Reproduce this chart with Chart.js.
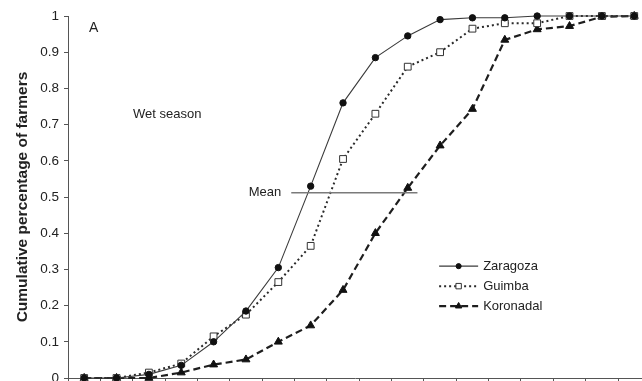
<!DOCTYPE html>
<html>
<head>
<meta charset="utf-8">
<script src="https://cdn.jsdelivr.net/npm/chart.js@4/dist/chart.umd.min.js"></script>
<style>
  html, body { margin: 0; padding: 0; background: #fff; overflow: hidden; }
  #wrap { width: 642px; height: 381px; }
</style>
</head>
<body>
<div id="wrap"><canvas id="c" width="642" height="381"></canvas></div>
<script>
// Yield classes along the x axis (class index, labels not shown)
const classes = [1, 2, 3, 4, 5, 6, 7, 8, 9, 10, 11, 12, 13, 14, 15, 16, 17, 18];

// Cumulative share of farmers per class, by site
const zaragoza  = [0, 0, 0.01, 0.035, 0.10, 0.185, 0.305, 0.53, 0.76, 0.885, 0.945, 0.99, 0.995, 0.995, 1, 1, 1, 1];
const guimba    = [0, 0, 0.015, 0.04, 0.115, 0.175, 0.265, 0.365, 0.605, 0.73, 0.86, 0.90, 0.965, 0.98, 0.98, 1, 1, 1];
const koronadal = [0, 0, 0, 0.015, 0.037, 0.051, 0.10, 0.145, 0.243, 0.40, 0.525, 0.642, 0.743, 0.934, 0.963, 0.972, 0.998, 1];

// Y tick values
const yTicks = [0, 0.1, 0.2, 0.3, 0.4, 0.5, 0.6, 0.7, 0.8, 0.9, 1];

// Mean marker line
const meanLevel = 0.512;
const meanSpan = [7.4, 11.3];

const toXY = (vals) => vals.map((v, i) => ({ x: classes[i], y: v }));

const FONT = "'Liberation Sans', Arial, Helvetica, sans-serif";
const INK = '#222';

const series = [
  { label: 'Zaragoza',  data: toXY(zaragoza),  borderColor: '#3a3a3a', borderWidth: 1.1, borderDash: [],
    pointStyle: 'circle',   pointRadius: 3.2, pointBackgroundColor: '#111', pointBorderColor: '#111' },
  { label: 'Guimba',    data: toXY(guimba),    borderColor: '#2a2a2a', borderWidth: 2, borderDash: [2, 3],
    pointStyle: 'rect',     pointRadius: 4.8, pointBackgroundColor: '#fff', pointBorderColor: '#333' },
  { label: 'Koronadal', data: toXY(koronadal), borderColor: '#1e1e1e', borderWidth: 2.2, borderDash: [7, 4],
    pointStyle: 'triangle', pointRadius: 4.6, pointBackgroundColor: '#111', pointBorderColor: '#111' }
];

const datasets = [
  { label: 'Mean', data: [{ x: meanSpan[0], y: meanLevel }, { x: meanSpan[1], y: meanLevel }],
    borderColor: '#7a7a7a', borderWidth: 1.5, pointRadius: 0, order: -1 },
  ...series.map((s, i) => Object.assign({ tension: 0, pointBorderWidth: 1, clip: false, order: i }, s))
];

// Text notes and the in-plot legend
const notes = {
  id: 'notes',
  afterDatasetsDraw(chart) {
    const { ctx, scales: { x, y } } = chart;
    ctx.save();
    ctx.fillStyle = INK;
    ctx.textBaseline = 'middle';

    ctx.font = `14px ${FONT}`;
    ctx.textAlign = 'left';
    ctx.fillText('A', x.getPixelForValue(1.15), y.getPixelForValue(0.967));

    ctx.font = `13px ${FONT}`;
    ctx.fillText('Wet season', x.getPixelForValue(2.51), y.getPixelForValue(0.729));

    ctx.textAlign = 'right';
    ctx.fillText('Mean', x.getPixelForValue(7.09), y.getPixelForValue(meanLevel));

    // legend
    const lx = x.getPixelForValue(11.97);
    let ly = y.getPixelForValue(0.309);
    series.forEach((s) => {
      ctx.save();
      ctx.strokeStyle = s.borderColor;
      ctx.lineWidth = s.borderWidth;
      ctx.setLineDash(s.borderDash);
      ctx.beginPath();
      ctx.moveTo(lx, ly);
      ctx.lineTo(lx + 39, ly);
      ctx.stroke();
      ctx.setLineDash([]);
      ctx.fillStyle = s.pointBackgroundColor;
      ctx.strokeStyle = s.pointBorderColor;
      ctx.lineWidth = 1;
      Chart.helpers.drawPoint(ctx, { pointStyle: s.pointStyle, radius: s.pointRadius * 0.8, rotation: 0, borderWidth: 1 }, lx + 19.5, ly);
      ctx.restore();
      ctx.fillStyle = INK;
      ctx.textAlign = 'left';
      ctx.font = `13px ${FONT}`;
      ctx.fillText(s.label, lx + 44, ly);
      ly += 20;
    });
    ctx.restore();
  }
};

new Chart(document.getElementById('c'), {
  type: 'line',
  data: { datasets },
  options: {
    responsive: false,
    animation: false,
    devicePixelRatio: 1,
    layout: { autoPadding: false, padding: { top: 16, left: 0, right: 0, bottom: 0 } },
    plugins: { legend: { display: false }, tooltip: { enabled: false } },
    scales: {
      x: {
        type: 'linear',
        min: 0.5,
        max: 18.24,
        afterBuildTicks: (s) => { s.ticks = classes.map((c) => ({ value: c - 0.5 })); },
        afterFit: (s) => { s.height = 3; s.paddingLeft = 0; s.paddingRight = 0; },
        ticks: { display: false },
        grid: { display: true, drawOnChartArea: false, drawTicks: true, tickLength: 4, color: '#555', lineWidth: 1 },
        border: { display: true, color: '#555', width: 1 }
      },
      y: {
        type: 'linear',
        min: 0,
        max: 1,
        afterBuildTicks: (s) => { s.ticks = yTicks.map((v) => ({ value: v })); },
        afterFit: (s) => { s.width = 68; s.paddingTop = 0; s.paddingBottom = 0; },
        ticks: {
          color: INK,
          font: { family: FONT, size: 13.5 },
          padding: 5,
          callback: (v) => String(Number(v.toFixed(1)))
        },
        grid: { display: true, drawOnChartArea: false, drawTicks: true, tickLength: 4, color: '#555', lineWidth: 1 },
        border: { display: true, color: '#555', width: 1 },
        title: {
          display: true,
          text: 'Cumulative percentage of farmers',
          color: INK,
          font: { family: FONT, size: 15.5, weight: 'bold' },
          padding: { top: 13, bottom: 0 }
        }
      }
    }
  },
  plugins: [notes]
});
</script>
</body>
</html>
